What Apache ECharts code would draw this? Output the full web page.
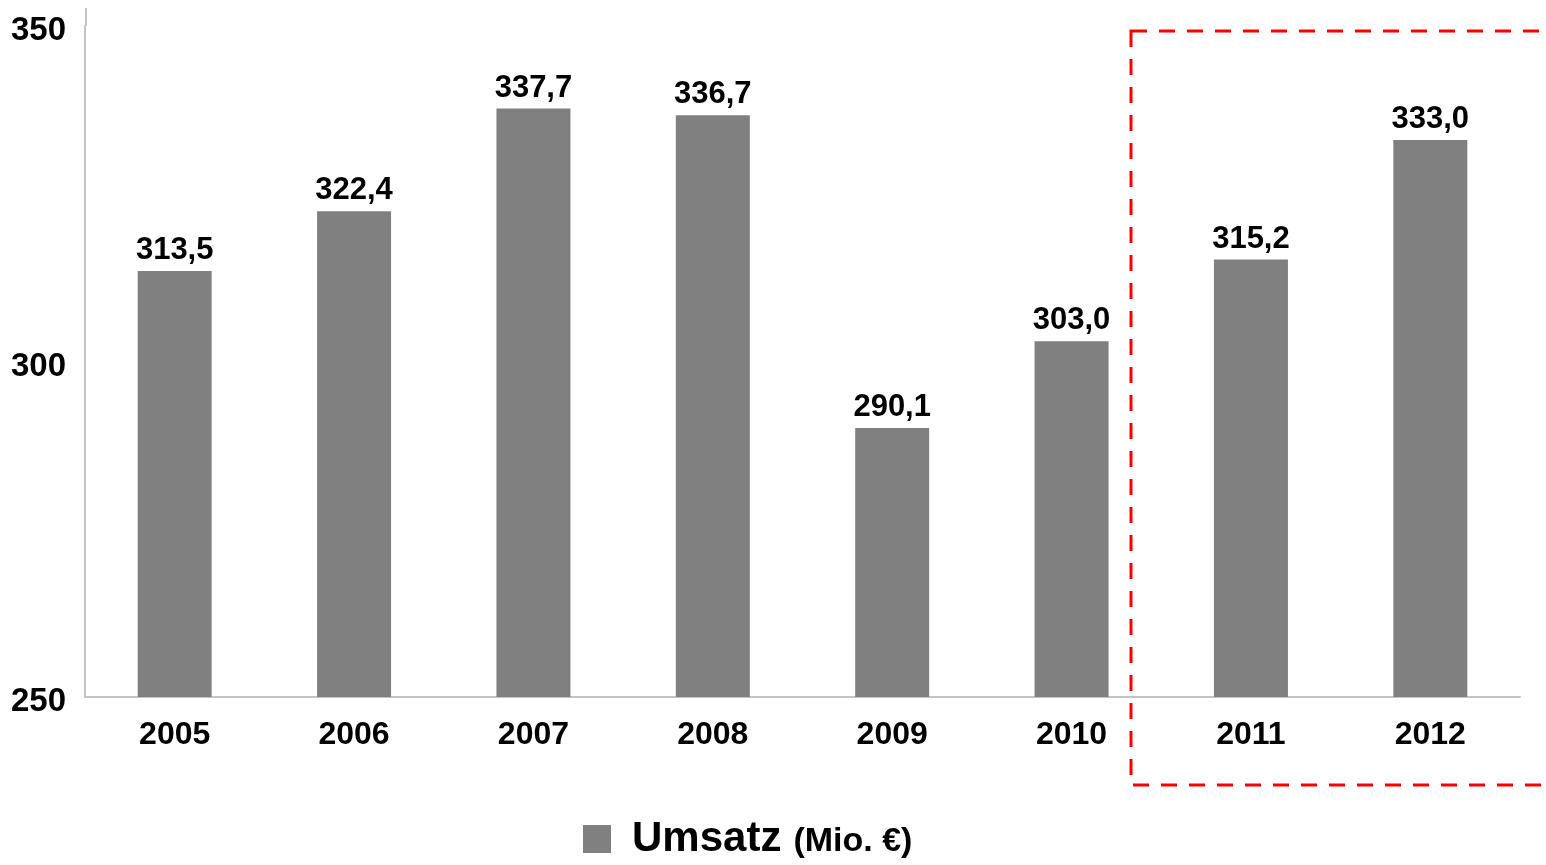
<!DOCTYPE html>
<html>
<head>
    <meta charset="utf-8">
    <title>Umsatz</title>
    <script src="https://cdn.jsdelivr.net/npm/echarts@6/dist/echarts.min.js"></script>
    <style>
        html, body { margin: 0; padding: 0; background: #fff; }
        #chart { width: 1546px; height: 865px; }
    </style>
</head>
<body>
    <div id="chart"></div>
    <script>
        // values
        var years = ['2005', '2006', '2007', '2008', '2009', '2010', '2011', '2012'];
        var umsatz = [313.5, 322.4, 337.7, 336.7, 290.1, 303.0, 315.2, 333.0];
        var yTicks = [250, 300, 350];

        var font = '"Liberation Sans", Arial, sans-serif';

        var chart = echarts.init(document.getElementById('chart'));

        var option = {
            animation: false,
            textStyle: { fontFamily: font },
            grid: { left: 85, right: 26, top: 26, bottom: 168 },
            legend: {
                bottom: 0,
                left: 578,
                itemWidth: 28,
                itemHeight: 28,
                icon: 'rect',
                data: ['Umsatz'],
                formatter: function () { return '{a|Umsatz}{b|(Mio. €)}'; },
                textStyle: {
                    rich: {
                        a: { fontSize: 42, fontWeight: 'bold', color: '#000', fontFamily: font, padding: [0, 0, 0, 16] },
                        b: { fontSize: 34, fontWeight: 'bold', color: '#000', fontFamily: font, padding: [6, 0, 0, 12] }
                    }
                }
            },
            xAxis: {
                type: 'category',
                data: years,
                axisLine: { lineStyle: { color: '#c4c4c4', width: 2 } },
                axisTick: { show: false },
                axisLabel: { fontSize: 32, fontWeight: 'bold', color: '#000', margin: 22 }
            },
            yAxis: {
                type: 'value',
                min: yTicks[0],
                max: yTicks[yTicks.length - 1],
                interval: 50,
                axisLine: { show: true, lineStyle: { color: '#c4c4c4', width: 2 } },
                axisTick: { show: false },
                splitLine: { show: false },
                axisLabel: {
                    margin: 19,
                    formatter: '{v|{value}}',
                    rich: {
                        v: { fontSize: 33, fontWeight: 'bold', color: '#000', fontFamily: font, padding: [10, 0, 0, 0] }
                    }
                }
            },
            series: [{
                name: 'Umsatz',
                type: 'bar',
                data: umsatz,
                barWidth: 74,
                itemStyle: { color: '#808080' },
                label: {
                    show: true,
                    position: 'top',
                    distance: 5,
                    fontSize: 31,
                    fontWeight: 'bold',
                    color: '#000',
                    formatter: function (p) { return p.value.toFixed(1).replace('.', ','); }
                }
            }],
            // red dashed frame around the last two years
            graphic: [{
                type: 'rect',
                shape: { x: 1131, y: 31, width: 430, height: 754 },
                style: { fill: null, stroke: '#ff0000', lineWidth: 3, lineDash: [16, 12] },
                z: 10
            }, {
                // axis line runs a little above the top tick in the original
                type: 'line',
                shape: { x1: 86, y1: 8, x2: 86, y2: 26 },
                style: { stroke: '#c4c4c4', lineWidth: 2 }
            }]
        };

        chart.setOption(option);
    </script>
</body>
</html>
